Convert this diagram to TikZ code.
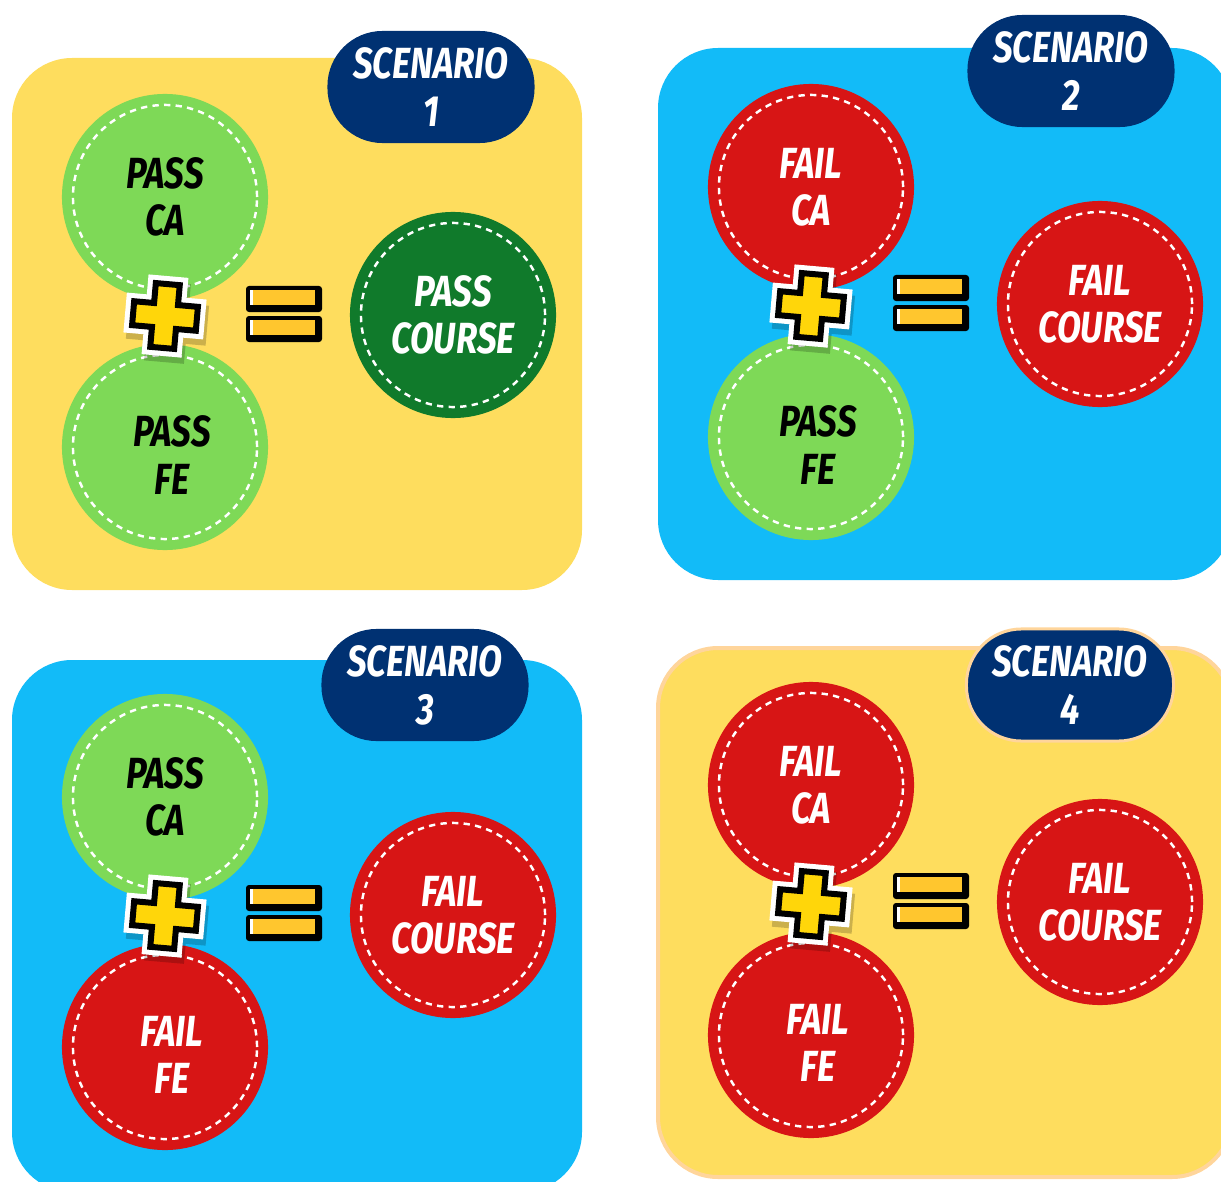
\documentclass[tikz,border=0pt]{standalone}
\usepackage{fontspec}
\usetikzlibrary{calc}

\newfontfamily\brushfont{Fira Sans}[FakeStretch=0.8]
\newcommand{\brushtext}{\brushfont\bfseries\itshape\fontsize{12.4}{13.4}\selectfont}

\definecolor{panelyellow}{HTML}{FEDD5E}
\definecolor{panelblue}{HTML}{12BBF8}
\definecolor{passgreen}{HTML}{7ED957}
\definecolor{coursegreen}{HTML}{107A2B}
\definecolor{failred}{HTML}{D71515}
\definecolor{badgenavy}{HTML}{003172}
\definecolor{plusyellow}{HTML}{FFD60A}
\definecolor{barsyellow}{HTML}{FFC62E}
\definecolor{peach}{HTML}{FFD59B}

\tikzset{
  panel/.style={rounded corners=0.6cm},
  ball/.style={circle, minimum size=2.06cm, inner sep=0pt, align=center, font=\brushtext,
    path picture={\draw[white, line width=0.7pt, dash pattern=on 1.8pt off 1.5pt]
      (path picture bounding box.center) circle (0.92cm);}},
  passball/.style={ball, fill=passgreen, text=black},
  failball/.style={ball, fill=failred, text=white},
  courseball/.style={ball, fill=coursegreen, text=white},
  balltext/.style={inner sep=0pt, align=center, font=\brushtext},
  badge/.style={rounded corners=0.55cm, fill=badgenavy, text=white, minimum width=2.07cm,
    minimum height=1.12cm, align=center, font=\brushtext, text depth=0pt},
  plusshape/.style={insert path={(-12,-32) -- (12,-32) -- (12,-12) -- (32,-12) -- (32,12) -- (12,12)
    -- (12,32) -- (-12,32) -- (-12,12) -- (-32,12) -- (-32,-12) -- (-12,-12) -- cycle}},
  plussign/.pic={
    \begin{scope}[yshift=0.06cm, rotate=-5]
      \path[fill=black, opacity=0.2, shift={(3,6)}, line width=0.16cm, draw=black, plusshape];
      \path[fill=white, draw=white, line width=0.16cm, plusshape];
      \path[fill=plusyellow, draw=black, line width=0.06cm, plusshape];
    \end{scope}
  },
  equalsign/.pic={
    \foreach \dy in {-16,14}{
      \fill[black, rounded corners=0.03cm] (-37,\dy-13) rectangle (39,\dy+13);
      \fill[barsyellow] (-33,\dy-9) rectangle (32,\dy+6);
      \fill[white] (-33,\dy-9) rectangle (-30,\dy+6);
    }
  },
}

\begin{document}
\begin{tikzpicture}[x=0.01cm, y=-0.01cm, line join=miter]

\useasboundingbox (0,0) rectangle (1221,1182);
\clip (0,0) rectangle (1221,1182);

% scenario 1
\fill[panelyellow, panel] (12,58) rectangle (582,590);
\node[badge] (badge1) at (431,87) {SCENARIO\\1};
\node[passball] (ca1) at (165,197) {PASS\\CA};
\node[passball] (fe1) at (165,447) {};
\node[balltext, text=black] at ($(fe1)+(7,8)$) {PASS\\FE};
\node[courseball] (course1) at (453,315) {PASS\\COURSE};
\pic at ($(ca1)!0.5!(fe1)$) {plussign};
\pic at (283,315) {equalsign};

% scenario 2
\fill[panelblue, panel] (658,48) rectangle (1232,580);
\node[badge] (badge2) at (1071,71) {SCENARIO\\2};
\node[failball] (ca2) at (811,187) {FAIL\\CA};
\node[passball] (fe2) at (811,437) {};
\node[balltext, text=black] at ($(fe2)+(7,8)$) {PASS\\FE};
\node[failball] (course2) at (1100,304) {FAIL\\COURSE};
\pic at ($(ca2)!0.5!(fe2)$) {plussign};
\pic at (930,304) {equalsign};

% scenario 3
\fill[panelblue, panel] (12,660) rectangle (582,1192);
\node[badge] (badge3) at (425,685) {SCENARIO\\3};
\node[passball] (ca3) at (165,797) {PASS\\CA};
\node[failball] (fe3) at (165,1047) {};
\node[balltext, text=white] at ($(fe3)+(7,8)$) {FAIL\\FE};
\node[failball] (course3) at (453,915) {FAIL\\COURSE};
\pic at ($(ca3)!0.5!(fe3)$) {plussign};
\pic at (283,914) {equalsign};

% scenario 4
\filldraw[panelyellow, draw=peach, line width=0.04cm, panel] (658,648) rectangle (1232,1177);
\node[badge, draw=peach, line width=0.03cm] (badge4) at (1070,685) {SCENARIO\\4};
\node[failball] (ca4) at (811,785) {FAIL\\CA};
\node[failball] (fe4) at (811,1035) {};
\node[balltext, text=white] at ($(fe4)+(7,8)$) {FAIL\\FE};
\node[failball] (course4) at (1100,902) {FAIL\\COURSE};
\pic at ($(ca4)!0.5!(fe4)$) {plussign};
\pic at (930,902) {equalsign};

\end{tikzpicture}
\end{document}
